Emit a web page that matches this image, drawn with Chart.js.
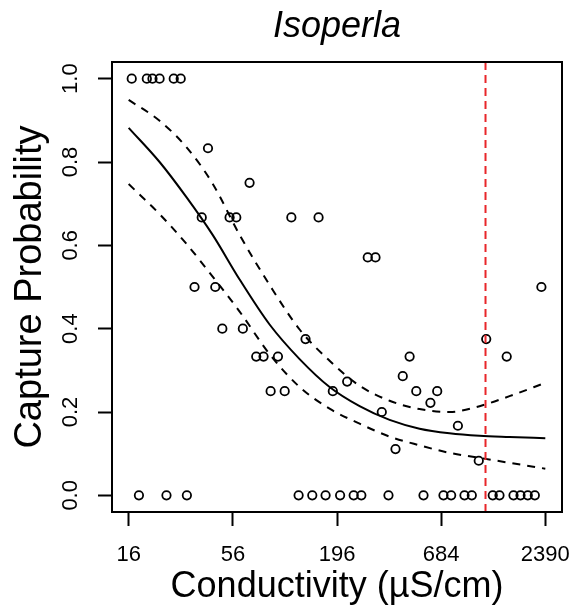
<!DOCTYPE html>
<html><head><meta charset="utf-8">
<script src="https://cdn.jsdelivr.net/npm/chart.js@4/dist/chart.umd.min.js"></script>
<style>html,body{margin:0;padding:0;background:#fff}</style>
</head><body>
<canvas id="c" width="575" height="608" style="display:block;width:575px;height:608px"></canvas>
<script>
// Observed capture probabilities vs conductivity
const pointConductivity = [16.6, 19.9, 21.3, 23.2, 27.5, 29.9,
  41.5, 68.4,
  38.5, 53.8, 58.3, 113, 156.7,
  35.3, 45.3, 2280,
  49.3, 63.1,
  74.1, 80.9, 96.2, 468, 1503,
  88.1, 104.3, 186, 507, 652,
  134, 1175,
  283, 310.6,
  431, 221, 601, 335, 836, 395, 1074,
  18.1, 25.2, 32.2, 123.3, 145.3, 170.5, 203, 239, 262, 363, 553, 703, 771, 905, 988, 1271, 1378, 1631, 1774, 1936, 2107];
const pointProbability = [1, 1, 1, 1, 1, 1,
  0.833, 0.75,
  0.667, 0.667, 0.667, 0.667, 0.667,
  0.5, 0.5, 0.5,
  0.4, 0.4,
  0.333, 0.333, 0.333, 0.333, 0.333,
  0.25, 0.25, 0.25, 0.25, 0.25,
  0.375, 0.375,
  0.571, 0.571,
  0.286, 0.273, 0.222, 0.2, 0.167, 0.111, 0.083,
  0, 0, 0, 0, 0, 0, 0, 0, 0, 0, 0, 0, 0, 0, 0, 0, 0, 0, 0, 0, 0];

// Fitted curve and confidence band
const curveConductivity = [16, 23.2, 32.1, 43.9, 60.7, 87, 124.8, 178.9, 256.6, 367.9, 527.3, 756, 1084, 1554, 2390];
const fittedProb = [0.882, 0.80, 0.715, 0.625, 0.518, 0.41, 0.327, 0.26, 0.214, 0.181, 0.16, 0.149, 0.143, 0.14, 0.137];
const upperProb  = [0.949, 0.899, 0.835, 0.748, 0.625, 0.505, 0.398, 0.323, 0.263, 0.227, 0.207, 0.2, 0.214, 0.238, 0.27];
const lowerProb  = [0.747, 0.675, 0.603, 0.525, 0.441, 0.339, 0.26, 0.208, 0.172, 0.141, 0.12, 0.102, 0.09, 0.078, 0.064];

const thresholdConductivity = 1165;
const xTickValues = [16, 56, 196, 684, 2390];
const yTickValues = [0, 0.2, 0.4, 0.6, 0.8, 1.0];

const FONT = "'Liberation Sans', Arial, Helvetica, sans-serif";
Chart.defaults.font.family = FONT;
Chart.defaults.color = '#000';

const pts = pointConductivity.map((x, i) => ({x, y: pointProbability[i]}));
const toXY = arr => curveConductivity.map((x, i) => ({x, y: arr[i]}));

const boxPlugin = {
  id: 'box',
  afterDatasetsDraw(chart) {
    const {ctx, chartArea: a} = chart;
    ctx.save();
    ctx.strokeStyle = '#000';
    ctx.lineWidth = 2;
    ctx.strokeRect(a.left, a.top, a.right - a.left, a.bottom - a.top);
    ctx.restore();
  }
};

new Chart(document.getElementById('c'), {
  type: 'scatter',
  data: {
    datasets: [
      {
        data: [{x: thresholdConductivity, y: -0.04}, {x: thresholdConductivity, y: 1.04}],
        showLine: true, borderColor: 'rgb(232,38,42)', borderWidth: 2, borderDash: [8, 5],
        pointRadius: 0, fill: false
      },
      {
        data: pts, showLine: false, pointStyle: 'circle', pointRadius: 4.2,
        pointBorderWidth: 1.8, pointBorderColor: '#000', pointBackgroundColor: 'rgba(0,0,0,0)'
      },
      {
        data: toXY(fittedProb), showLine: true, borderColor: '#000', borderWidth: 2,
        pointRadius: 0, cubicInterpolationMode: 'monotone', fill: false
      },
      {
        data: toXY(upperProb), showLine: true, borderColor: '#000', borderWidth: 2, borderDash: [8, 7],
        pointRadius: 0, cubicInterpolationMode: 'monotone', fill: false
      },
      {
        data: toXY(lowerProb), showLine: true, borderColor: '#000', borderWidth: 2, borderDash: [8, 7],
        pointRadius: 0, cubicInterpolationMode: 'monotone', fill: false
      }
    ]
  },
  options: {
    responsive: false,
    animation: false,
    devicePixelRatio: 1,
    layout: {padding: {left: 0, right: 13, top: 0, bottom: 0}},
    plugins: {
      legend: {display: false},
      tooltip: {enabled: false},
      title: {
        display: true, fullSize: false, text: 'Isoperla', color: '#000',
        font: {size: 36, style: 'italic', weight: 'normal', lineHeight: 1.2, family: FONT},
        padding: {top: 5.5, bottom: 13.3}
      }
    },
    scales: {
      x: {
        type: 'logarithmic',
        min: 13.096, max: 2920.6,
        afterBuildTicks: s => { s.ticks = xTickValues.map(v => ({value: v})); },
        afterFit: s => { s.height = 96; s.paddingLeft = 0; s.paddingRight = 0; },
        ticks: {
          autoSkip: false, maxRotation: 0, minRotation: 0, padding: 16,
          font: {size: 22, family: FONT}, color: '#000',
          callback: v => String(v)
        },
        grid: {drawOnChartArea: false, drawTicks: true, tickLength: 14, tickWidth: 2, tickColor: '#000'},
        border: {display: false},
        title: {
          display: true, text: 'Conductivity (µS/cm)', color: '#000',
          font: {size: 36, lineHeight: 1.0, family: FONT},
          padding: {top: 0, bottom: 2.5}
        }
      },
      y: {
        type: 'linear',
        min: -0.04, max: 1.04,
        afterBuildTicks: s => { s.ticks = yTickValues.map(v => ({value: v})); },
        afterFit: s => { s.width = 112; s.paddingTop = 0; s.paddingBottom = 0; },
        ticks: {
          autoSkip: false, minRotation: 90, maxRotation: 90, crossAlign: 'center', padding: 11.4,
          font: {size: 22, family: FONT}, color: '#000',
          callback: v => Number(v).toFixed(1)
        },
        grid: {drawOnChartArea: false, drawTicks: true, tickLength: 14, tickWidth: 2, tickColor: '#000'},
        border: {display: false},
        title: {
          display: true, text: 'Capture Probability', color: '#000',
          font: {size: 38, lineHeight: 1.2, family: FONT},
          padding: {top: 7.5, bottom: 0}
        }
      }
    }
  },
  plugins: [boxPlugin]
});
</script>
</body></html>
